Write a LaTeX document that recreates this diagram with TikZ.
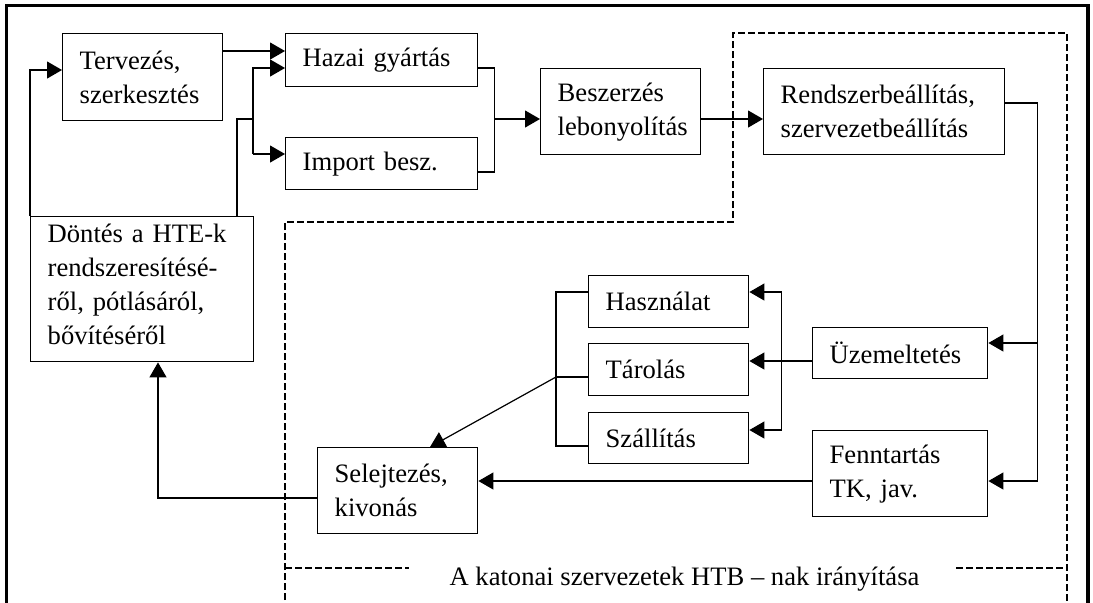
\documentclass[tikz,border=0pt]{standalone}
\usepackage{fontspec}
\setmainfont{Liberation Serif}
\usetikzlibrary{arrows.meta,calc}
\begin{document}
\begin{tikzpicture}[x=0.5pt,y=-0.5pt,
  every node/.style={font=\fontsize{13.3}{17}\selectfont},
  box/.style n args={3}{draw, line width=0.7pt, anchor=north west, align=left,
    inner xsep=8.5pt, inner ysep=0pt, minimum width=#1, minimum height=#2, text width=#3},
  conn/.style={line width=0.6pt},
  arr/.style={conn, -{Triangle[length=7.5pt,width=8.5pt]}},
  dsh/.style={line width=0.55pt, dash pattern=on 3.3pt off 1.7pt},
  frame/.style={line width=1.7pt, line join=miter}
]
\useasboundingbox (0,0) rectangle (1093,602);

% frame
\draw[frame] (6.5,610) -- (6.5,5.5) -- (1088,5.5) -- (1088,610);

% dashed region
\draw[dsh] (285,610) -- (285,222) -- (733,222) -- (733,33) -- (1067,33) -- (1067,610);
\draw[dsh] (285,568) -- (409,568);
\draw[dsh] (956,568) -- (1067,568);
\node[anchor=base, inner sep=0pt] (label) at (684.5,585) {A katonai szervezetek HTB – nak irányítása};

% boxes
\node[box={80pt}{43.5pt}{63pt}] (terv) at (62,33) {Tervezés,\\szerkesztés};
\node[box={96pt}{26.5pt}{79pt}] (hazai) at (285,33) {Hazai gyártás};
\node[box={96pt}{26pt}{79pt}] (import) at (285,137) {Import besz.};
\node[box={80pt}{43pt}{63pt}] (besz) at (540,68) {Beszerzés\\lebonyolítás};
\node[box={120.5pt}{43pt}{103.5pt}] (rend) at (763,68) {Rendszerbeállítás,\\szervezetbeállítás};
\node[box={111.5pt}{72.5pt}{94.5pt}] (dontes) at (30,216) {\raisebox{1.5pt}[\height][\depth]{\begin{tabular}{@{}l@{}}Döntés a HTE-k\\rendszeresítésé-\\ről, pótlásáról,\\bővítéséről\end{tabular}}};
\node[box={80pt}{26pt}{63pt}] (hasz) at (588,275) {Használat};
\node[box={80pt}{26pt}{63pt}] (tarol) at (588,343) {Tárolás};
\node[box={80pt}{25.5pt}{63pt}] (szall) at (588,412) {Szállítás};
\node[box={87.5pt}{25.5pt}{70.5pt}] (uzem) at (812,327) {Üzemeltetés};
\node[box={87.5pt}{43pt}{70.5pt}] (fennt) at (812,430) {Fenntartás\\TK, jav.};
\node[box={80pt}{43pt}{63pt}] (selej) at (317,447) {Selejtezés,\\kivonás};

% connectors
\draw[arr] (dontes.north west) |- ($(terv.north west)+(0,37)$);
\draw[arr] ($(terv.north east)+(0,18)$) -- ($(hazai.north west)+(0,18)$);
\draw[conn] ($(dontes.north west)+(207,0)$) |- ($(dontes.north east)+(0,-97)$);
\draw[arr] ($(import.north west)+(-32,17)$) |- ($(hazai.north west)+(0,35)$);
\draw[arr] ($(import.north west)+(-32,17)$) -- ($(import.north west)+(0,17)$);

\draw[conn] ($(hazai.north east)+(0,35)$) -| ($(import.north east)+(16,35)$) -- ($(import.north east)+(0,35)$);
\draw[arr] ($(hazai.north east)+(16,86)$) -- ($(besz.north west)+(0,51)$);
\draw[arr] ($(besz.north east)+(0,51)$) -- ($(rend.north west)+(0,51)$);

\draw[arr] ($(rend.north east)+(0,35)$) -| ($(fennt.north east)+(49,51)$) -- ($(fennt.north east)+(0,51)$);
\draw[arr] ($(uzem.north east)+(49,16)$) -- ($(uzem.north east)+(0,16)$);

\draw[arr] ($(uzem.north west)+(0,34)$) -- ($(tarol.north east)+(0,18)$);
\draw[arr] ($(szall.north east)+(32,18)$) |- ($(hasz.north east)+(0,17)$);
\draw[arr] ($(hasz.north east)+(32,17)$) |- ($(szall.north east)+(0,18)$);

\draw[conn] ($(hasz.north west)+(0,17)$) -| ($(szall.north west)+(-32,34)$) -- ($(szall.north west)+(0,34)$);
\draw[conn] ($(tarol.north west)+(0,34)$) -- ($(tarol.north west)+(-32,34)$);
\draw[arr] ($(tarol.north west)+(-32,34)$) -- ($(selej.north west)+(113,0)$);

\draw[arr] ($(fennt.north west)+(0,51)$) -- ($(selej.north east)+(0,34)$);
\draw[arr] ($(selej.north west)+(0,51)$) -| ($(dontes.south west)+(128,0)$);
\end{tikzpicture}
\end{document}
